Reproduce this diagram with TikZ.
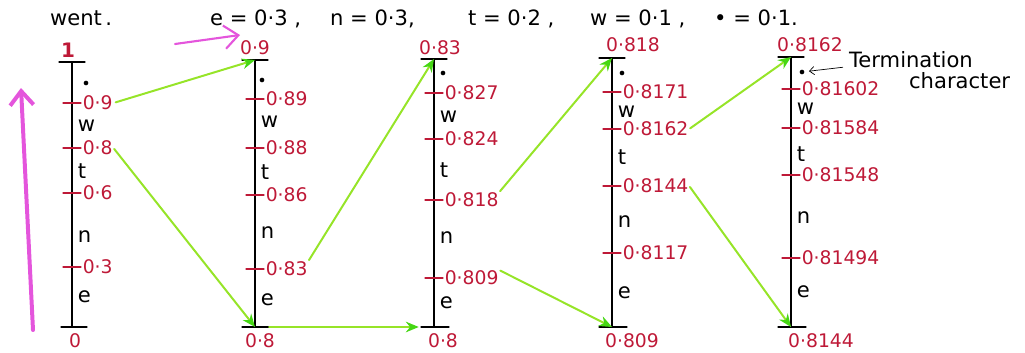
\documentclass[tikz,border=0pt]{standalone}
\usepackage{fontspec}
\setmainfont{DejaVu Sans}
\usetikzlibrary{arrows.meta}
\definecolor{ink}{RGB}{190,25,55}
\definecolor{arrowline}{RGB}{150,228,40}
\definecolor{arrowtip}{RGB}{70,215,20}
\definecolor{pinky}{RGB}{228,85,220}
\begin{document}
\begin{tikzpicture}[x=0.03cm, y=-0.03cm, font=\fontsize{16}{18}\selectfont, line join=round, line cap=round,
		axis/.style={line width=0.9pt},
		tick/.style={ink, line width=1.1pt},
		val/.style={ink, anchor=west, inner sep=0.5pt},
		sym/.style={anchor=west, inner sep=0.5pt, font=\fontsize{18}{20}\selectfont},
		head/.style={anchor=base west, font=\fontsize{18}{20}\selectfont},
		go/.style={arrowline, line width=1.7pt, -{Stealth[length=11pt, width=9pt, color=arrowtip]}},
		pinkarrow/.style={pinky, -{Straight Barb[length=12pt, width=20pt]}}]
	\useasboundingbox (0,0) rectangle (1025,352);
	% heading
	\node[head] (went) at (46,25) {went\,.};
	\node[head] (pe) at (206,25) {e = 0·3 ,};
	\node[head] (pn) at (326,25) {n = 0·3,};
	\node[head] (pt) at (464,25) {t = 0·2 ,};
	\node[head] (pw) at (586,25) {w = 0·1 ,};
	\node[head] (pd) at (710,25) {• = 0·1.};
	\draw[pinkarrow, line width=1.8pt] (175,44) coordinate (ps) -- (240,35) coordinate (pe2);
	\draw[pinkarrow, line width=3.4pt] (33,330) coordinate (us) -- (21,88) coordinate (ue);
	% interval 1
	\draw[axis] (72,62) coordinate (t1) -- (72,327) coordinate (b1);
	\draw[axis] (59,62) -- (85,62);
	\draw[axis] (61,327) -- (87,327);
	\node[ink, font=\fontsize{17}{19}\selectfont\bfseries] (top1) at (68,50) {1};
	\node[ink] (bot1) at (75,341) {0};
	\foreach \y/\v [count=\i] in {103/0·9,148/0·8,193/0·6,267/0·3}
		{\draw[tick] (63,\y) -- (81,\y); \node[val] (v1-\i) at (82,\y) {\v};}
	\foreach \y/\s in {126/w,171/t,237/n,297/e} \node[sym] at (77,\y) {\s};
	\fill (86,83) circle (2pt);
	% interval 2
	\draw[axis] (255,60) coordinate (t2) -- (255,327) coordinate (b2);
	\draw[axis] (242,60) -- (268,60);
	\draw[axis] (242,327) -- (270,327);
	\node[ink] (top2) at (255,48) {0·9};
	\node[ink] (bot2) at (260,341) {0·8};
	\foreach \y/\v [count=\i] in {99/0·89,148/0·88,195/0·86,269/0·83}
		{\draw[tick] (246,\y) -- (264,\y); \node[val] (v2-\i) at (265,\y) {\v};}
	\foreach \y/\s in {122/w,172/t,233/n,300/e} \node[sym] at (260,\y) {\s};
	\fill (262,80) circle (2pt);
	% interval 3
	\draw[axis] (434,59) coordinate (t3) -- (434,327) coordinate (b3);
	\draw[axis] (421,59) -- (447,59);
	\draw[axis] (421,327) -- (449,327);
	\node[ink] (top3) at (440,48) {0·83};
	\node[ink] (bot3) at (443,341) {0·8};
	\foreach \y/\v [count=\i] in {93/0·827,139/0·824,200/0·818,278/0·809}
		{\draw[tick] (425,\y) -- (443,\y); \node[val] (v3-\i) at (444,\y) {\v};}
	\foreach \y/\s in {117/w,170/t,238/n,303/e} \node[sym] at (439,\y) {\s};
	\fill (443,73) circle (2pt);
	% interval 4
	\draw[axis] (612,58) coordinate (t4) -- (612,327) coordinate (b4);
	\draw[axis] (599,58) -- (625,58);
	\draw[axis] (599,327) -- (627,327);
	\node[ink] (top4) at (633,45) {0·818};
	\node[ink] (bot4) at (632,341) {0·809};
	\foreach \y/\v [count=\i] in {92/0·8171,129/0·8162,186/0·8144,253/0·8117}
		{\draw[tick] (603,\y) -- (621,\y); \node[val] (v4-\i) at (622,\y) {\v};}
	\foreach \y/\s in {112/w,157/t,222/n,293/e} \node[sym] at (617,\y) {\s};
	\fill (622,73) circle (2pt);
	% interval 5
	\draw[axis] (791,57) coordinate (t5) -- (791,327) coordinate (b5);
	\draw[axis] (778,57) -- (804,57);
	\draw[axis] (778,327) -- (806,327);
	\node[ink] (top5) at (810,45) {0·8162};
	\node[ink] (bot5) at (821,341) {0·8144};
	\foreach \y/\v [count=\i] in {89/0·81602,128/0·81584,175/0·81548,258/0·81494}
		{\draw[tick] (782,\y) -- (800,\y); \node[val] (v5-\i) at (801,\y) {\v};}
	\foreach \y/\s in {109/w,154/t,218/n,292/e} \node[sym] at (796,\y) {\s};
	\fill (802,72) circle (2pt) coordinate (dot5);
	% termination note
	\node[head] (term) at (845,67) {Termination};
	\node[head] (chr) at (905,88) {character};
	\draw[line width=0.6pt, -{Straight Barb[length=4pt, width=7pt]}, shorten <=2pt, shorten >=6pt] (term.base west) -- (dot5);
	% green moves
	\draw[go, shorten <=2pt] (v1-1.east) -- (t2);
	\draw[go, shorten <=1pt] (v1-2.east) -- (b2);
	\draw[go, shorten <=12pt, shorten >=13pt] (b2) -- (b3);
	\draw[go, shorten <=1pt] (v2-4.north east) -- (t3);
	\draw[go, shorten <=1pt] (v3-3.north east) -- (t4);
	\draw[go, shorten <=1pt] (v3-4.north east) -- (b4);
	\draw[go, shorten <=1pt] (v4-2.east) -- (t5);
	\draw[go, shorten <=1pt] (v4-3.east) -- (b5);
\end{tikzpicture}
\end{document}
